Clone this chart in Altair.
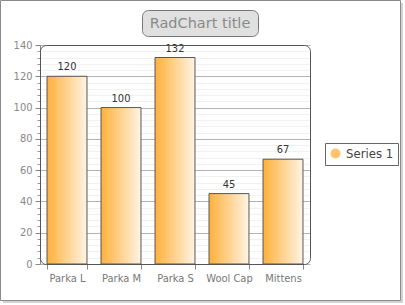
import altair as alt
import pandas as pd

categories = ["Parka L", "Parka M", "Parka S", "Wool Cap", "Mittens"]
values = [120, 100, 132, 45, 67]
series_name = "Series 1"
title_text = "RadChart title"
major_ticks = [0, 20, 40, 60, 80, 100, 120, 140]
minor_ticks = list(range(0, 141, 4))

df = pd.DataFrame({"category": categories, "value": values, "series": series_name})

SMALL = "DejaVu Sans Condensed"
W, H = 270, 219

ydom = alt.Scale(domain=[0, 140], nice=False, zero=True)
xenc = alt.X("category:N", sort=categories,
             scale=alt.Scale(paddingInner=0.26, paddingOuter=0.13),
             axis=alt.Axis(title=None, tickBand="extent", tickSize=5, tickColor="#888",
                           domain=False, labelColor="#777", labelFont=SMALL,
                           labelFontSize=11, labelPadding=3, labelAngle=0))

base = alt.Chart(df)

minor = base.mark_rule(opacity=0).encode(
    y=alt.Y("value:Q", scale=ydom,
            axis=alt.Axis(orient="left", values=minor_ticks, grid=True, gridColor="#f1f1f1",
                          labels=False, tickSize=3, tickColor="#999", domain=False,
                          title=None))
)

bars = base.mark_bar(
    stroke="#555", strokeWidth=1,
    fill=alt.Gradient(gradient="linear", x1=0, x2=1, y1=0, y2=0,
                      stops=[alt.GradientStop(offset=0, color="#FFB03C"),
                             alt.GradientStop(offset=1, color="#FFF4E4")])
).encode(
    x=xenc,
    y=alt.Y("value:Q", scale=ydom,
            axis=alt.Axis(orient="left", values=major_ticks, grid=True, gridColor="#b4b4b4",
                          tickSize=5, tickColor="#888", domainColor="#888",
                          labelColor="#888", labelFont=SMALL, labelFontSize=11,
                          labelPadding=3, title=None))
)

labels = base.mark_text(baseline="bottom", dy=-4, font=SMALL, fontSize=11, color="#333").encode(
    x=alt.X("category:N", sort=categories),
    y=alt.Y("value:Q", scale=ydom, axis=None),
    text="value:Q"
)

legend_layer = base.mark_point(filled=True, opacity=0, size=0).encode(
    x=alt.X("category:N", sort=categories),
    y=alt.Y("value:Q", scale=ydom, axis=None),
    color=alt.Color("series:N", scale=alt.Scale(range=["#FFC46C"]),
                    legend=alt.Legend(title=None, orient="none", legendX=285, legendY=98,
                                      strokeColor="#666", padding=4, symbolType="circle",
                                      symbolSize=100, symbolOpacity=1, symbolStrokeWidth=0,
                                      labelFont=SMALL, labelFontSize=13, labelColor="#444",
                                      labelOffset=4))
)

one = alt.Data(values=[{"t": title_text}])

plot_border = alt.Chart(one).mark_rect(fill="transparent", stroke="#555", strokeWidth=1,
                                       cornerRadius=6).encode(
    x=alt.value(0.5), x2=alt.value(270.5), y=alt.value(0.5), y2=alt.value(219.5))
shadow_r = alt.Chart(one).mark_rect(fill="#d2d2d2").encode(
    x=alt.value(361), x2=alt.value(363), y=alt.value(-42), y2=alt.value(258))
shadow_b = alt.Chart(one).mark_rect(fill="#d2d2d2").encode(
    x=alt.value(-37), x2=alt.value(363), y=alt.value(256), y2=alt.value(258))
frame = alt.Chart(one).mark_rect(fill="transparent", stroke="#8a8a8a", strokeWidth=1).encode(
    x=alt.value(-39.5), x2=alt.value(360.5), y=alt.value(-44.5), y2=alt.value(255.5))
title_box = alt.Chart(one).mark_rect(fill="#e0e0e0", stroke="#777", strokeWidth=1,
                                     cornerRadius=6).encode(
    x=alt.value(102.5), x2=alt.value(218.5), y=alt.value(-34.5), y2=alt.value(-8.5))
title = alt.Chart(one).mark_text(font="DejaVu Sans", fontSize=14.5, color="#8a8a8a",
                                 baseline="middle", align="center").encode(
    x=alt.value(160), y=alt.value(-21), text="t:N")

chart = alt.layer(minor, bars, labels, legend_layer, plot_border, shadow_r, shadow_b, frame,
                  title_box, title).resolve_scale(
    y="independent"
).properties(
    width=W, height=H,
    autosize=alt.AutoSizeParams(type="none"),
    padding={"left": 40, "top": 45, "right": 95, "bottom": 41},
    background="white"
).configure_view(
    strokeWidth=0
)

chart.save("out.html", embed_options={"renderer": "svg", "actions": False})
